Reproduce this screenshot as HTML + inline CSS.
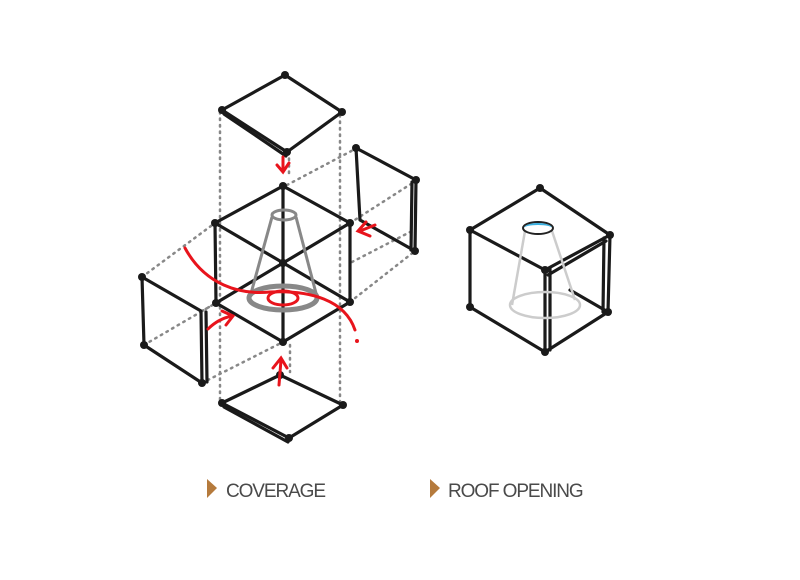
<!DOCTYPE html>
<html><head><meta charset="utf-8"><style>
html,body{margin:0;padding:0;background:#fff;width:800px;height:580px;overflow:hidden}
svg{display:block}
text{font-family:"Liberation Sans",sans-serif;fill:#4a4a4a}
</style></head><body>
<svg width="800" height="580" viewBox="0 0 800 580" xmlns="http://www.w3.org/2000/svg">
<g stroke="#888" stroke-width="2.5" stroke-dasharray="1.5 5" fill="none" stroke-linecap="round">
<line x1="220" y1="112" x2="220" y2="403"/>
<line x1="340" y1="115" x2="340" y2="405"/>
<line x1="289" y1="152" x2="289" y2="178"/>
<line x1="290" y1="345" x2="290" y2="372"/>
<line x1="287" y1="185" x2="357" y2="148"/>
<line x1="350" y1="223" x2="414" y2="182"/>
<line x1="352" y1="262" x2="414" y2="230"/>
<line x1="350" y1="302" x2="415" y2="251"/>
<line x1="142" y1="277" x2="215" y2="223"/>
<line x1="202" y1="311" x2="216" y2="303"/>
<line x1="202" y1="383" x2="283" y2="342"/>
<line x1="144" y1="345" x2="216" y2="303"/>
</g>
<g stroke="#1a1a1a" stroke-width="3.2" fill="none" stroke-linecap="round" stroke-linejoin="round">
<polygon points="285,75 342,112 287,152 222,110"/>
<line x1="224" y1="114" x2="286" y2="156"/>
<polyline points="215,223 283,186 350,223"/>
<line x1="215" y1="223" x2="350" y2="302"/>
<line x1="350" y1="223" x2="216" y2="303"/>
<line x1="283" y1="186" x2="283" y2="342"/>
<line x1="215" y1="223" x2="216" y2="303"/>
<line x1="350" y1="223" x2="350" y2="302"/>
<polyline points="216,303 283,342 350,302"/>
<polygon points="356,148 416,180 415,251 360,220"/>
<line x1="412" y1="182" x2="411" y2="250"/>
<polygon points="142,277 201,311 202,383 144,345"/>
<line x1="206" y1="312" x2="207" y2="382"/>
<polygon points="280,375 343,405 289,438 222,403"/>
<line x1="224" y1="407" x2="288" y2="442"/>
<polygon points="540,188 610,235 545,270 470,230"/>
<line x1="470" y1="230" x2="470" y2="307"/>
<line x1="545" y1="270" x2="545" y2="352"/>
<line x1="550" y1="268" x2="550" y2="350"/>
<line x1="610" y1="235" x2="608" y2="312"/>
<line x1="604" y1="238" x2="603" y2="312"/>
<line x1="470" y1="307" x2="545" y2="352"/>
<line x1="545" y1="352" x2="608" y2="312"/>
<line x1="548" y1="275" x2="606" y2="241"/>
<line x1="570" y1="290" x2="608" y2="312"/>
</g>
<g fill="#1a1a1a">
<circle cx="285" cy="75" r="4"/><circle cx="222" cy="110" r="4"/><circle cx="342" cy="112" r="4"/><circle cx="287" cy="152" r="4"/>
<circle cx="283" cy="186" r="4"/><circle cx="215" cy="223" r="4"/><circle cx="350" cy="223" r="4"/><circle cx="283" cy="263" r="4"/><circle cx="216" cy="303" r="4"/><circle cx="350" cy="302" r="4"/><circle cx="283" cy="342" r="4"/>
<circle cx="356" cy="148" r="4"/><circle cx="416" cy="180" r="4"/><circle cx="415" cy="251" r="4"/>
<circle cx="142" cy="277" r="4"/><circle cx="202" cy="383" r="4"/><circle cx="144" cy="345" r="4"/>
<circle cx="280" cy="375" r="4"/><circle cx="343" cy="405" r="4"/><circle cx="289" cy="438" r="4"/><circle cx="222" cy="403" r="4"/>
<circle cx="540" cy="188" r="4"/><circle cx="470" cy="230" r="4"/><circle cx="610" cy="235" r="4"/><circle cx="545" cy="270" r="4"/><circle cx="470" cy="307" r="4"/><circle cx="545" cy="352" r="4"/><circle cx="608" cy="312" r="4"/>
</g>
<g stroke="#888" stroke-width="3" fill="none">
<ellipse cx="284" cy="215" rx="12" ry="5"/>
<line x1="272" y1="217" x2="250" y2="297"/>
<line x1="296" y1="217" x2="317" y2="297"/>
<ellipse cx="283" cy="298" rx="34" ry="12" stroke-width="5"/>
</g>
<g stroke="#ccc" stroke-width="2.5" fill="none">
<line x1="525" y1="231" x2="512" y2="305"/>
<line x1="552" y1="231" x2="575" y2="300"/>
<ellipse cx="545" cy="305" rx="35" ry="13"/>
</g>
<ellipse cx="538" cy="228" rx="15" ry="6" fill="#fff" stroke="#222" stroke-width="2"/>
<path d="M524,228 A14,5 0 0 1 552,228 A14,3 0 0 0 524,228Z" fill="#3ab0e0"/>
<g stroke="#e8141c" stroke-width="3" fill="none" stroke-linecap="round">
<path d="M185,248 C205,285 240,295 270,292 C310,290 345,300 355,330"/>
<ellipse cx="283" cy="298" rx="15" ry="7"/>
<path d="M283,157 L283,172 M277,165 L283,172 L289,163"/>
<path d="M375,225 L360,231 M366,222 L358,231 L370,236"/>
<path d="M208,329 C215,322 222,318 232,316 M222,311 L233,316 L226,325"/>
<path d="M279,385 L281,360 M273,368 L281,358 L287,368"/>
</g>
<circle cx="357" cy="341" r="2" fill="#e8141c"/>
<polygon points="207,479 217,488 207,498" fill="#b57a3c"/>
<polygon points="430,479 440,488 430,498" fill="#b57a3c"/>
<text x="226" y="497" font-size="19" letter-spacing="-1.1">COVERAGE</text>
<text x="448" y="497" font-size="19" letter-spacing="-1.1">ROOF OPENING</text>
</svg>
</body></html>
